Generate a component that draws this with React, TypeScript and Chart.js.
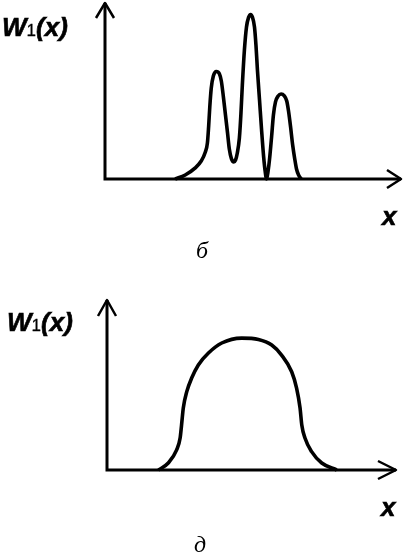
import React, { useEffect, useRef } from "react";
import { Chart, registerables } from "chart.js";

Chart.register(...registerables);

// Panel "б": W1(x) with three peaks (axis units 0..100, arrow tips at 100)
const xB = [23.7, 27.1, 30.5, 32.5, 33.9, 34.6, 35.0, 35.4, 35.9, 36.6, 37.6, 38.6, 39.3, 40.0, 40.7, 41.4, 42.0, 42.7, 43.5, 44.1, 44.7, 45.4, 45.9, 46.4, 47.1, 47.8, 48.5, 49.2, 49.8, 50.5, 51.0, 51.5, 52.2, 52.9, 53.6, 54.1, 54.6, 55.1, 55.6, 56.3, 56.9, 57.6, 58.5, 59.5, 60.5, 61.4, 62.0, 62.7, 63.4, 64.1, 64.7, 65.4, 66.3];
const yB = [0, 2.3, 6.3, 10.2, 15.3, 20.5, 29.5, 40.9, 51.7, 58.5, 61.1, 59.9, 55.7, 46.6, 36.4, 26.1, 17.0, 11.6, 9.7, 10.8, 14.8, 23.3, 36.4, 53.4, 73.3, 86.4, 91.8, 93.5, 92.0, 86.4, 76.1, 61.9, 44.9, 27.8, 12.5, 4.5, 0, 4.5, 11.4, 24.4, 36.4, 43.8, 47.2, 48.3, 47.4, 44.3, 38.6, 29.5, 19.3, 11.4, 5.7, 2.3, 0];

// Panel "д": W1(x) dome
const xD = [17.8, 21.2, 24.1, 25.3, 25.8, 26.4, 27.6, 29.3, 31.6, 35.1, 39.7, 46.6, 52.4, 57.0, 60.4, 63.9, 65.6, 66.8, 67.4, 68.5, 70.8, 74.3, 79.5];
const yD = [0, 4.1, 11.8, 18.8, 26.5, 36.5, 46.1, 54.1, 61.8, 68.8, 74.7, 77.6, 76.8, 73.5, 67.6, 57.8, 48.2, 36.5, 26.5, 18.8, 10.8, 4.1, 0];

const axisMin = 0;
const axisMax = 100;

type PanelProps = {
  xs: number[];
  ys: number[];
  top: number;
  width: number;
  height: number;
  pad: { left: number; right: number; top: number; bottom: number };
  arrowX: { back: number; half: number };
  arrowY: { back: number; half: number };
};

function Panel({ xs, ys, top, width, height, pad, arrowX, arrowY }: PanelProps) {
  const ref = useRef<HTMLCanvasElement | null>(null);
  useEffect(() => {
    if (!ref.current) return;
    const axesArrows = {
      id: "axesArrows",
      afterDatasetsDraw(chart: any) {
        const { ctx } = chart;
        const sx = chart.scales.x;
        const sy = chart.scales.y;
        const x0 = sx.getPixelForValue(axisMin);
        const x1 = sx.getPixelForValue(axisMax);
        const y0 = sy.getPixelForValue(axisMin);
        const y1 = sy.getPixelForValue(axisMax);
        ctx.save();
        ctx.strokeStyle = "#000";
        ctx.lineWidth = 3;
        ctx.lineCap = "butt";
        ctx.beginPath();
        ctx.moveTo(x0 - 1.5, y0);
        ctx.lineTo(x1, y0);
        ctx.moveTo(x0, y0 + 1.5);
        ctx.lineTo(x0, y1);
        ctx.stroke();
        ctx.lineWidth = 2.5;
        ctx.lineJoin = "round";
        ctx.beginPath();
        ctx.moveTo(x1 - arrowX.back, y0 - arrowX.half);
        ctx.lineTo(x1, y0);
        ctx.lineTo(x1 - arrowX.back, y0 + arrowX.half);
        ctx.moveTo(x0 - arrowY.half, y1 + arrowY.back);
        ctx.lineTo(x0, y1);
        ctx.lineTo(x0 + arrowY.half, y1 + arrowY.back);
        ctx.stroke();
        ctx.restore();
      },
    };
    const chart = new Chart(ref.current, {
      type: "line",
      data: {
        datasets: [
          {
            data: xs.map((x, i) => ({ x, y: ys[i] })),
            borderColor: "#000",
            borderWidth: 3.6,
            pointRadius: 0,
            fill: false,
            cubicInterpolationMode: "monotone",
            clip: false as any,
          },
        ],
      },
      options: {
        responsive: false,
        animation: false,
        events: [],
        layout: { padding: pad },
        plugins: { legend: { display: false }, tooltip: { enabled: false }, title: { display: false } },
        scales: {
          x: { type: "linear", min: axisMin, max: axisMax, display: false },
          y: { type: "linear", min: axisMin, max: axisMax, display: false },
        },
      },
      plugins: [axesArrows],
    });
    return () => chart.destroy();
  }, []);
  return (
    <canvas
      ref={ref}
      width={width}
      height={height}
      style={{ position: "absolute", left: 0, top, width, height }}
    />
  );
}

const sans = '"Liberation Sans", Arial, sans-serif';
const serif = '"Liberation Serif", "Times New Roman", serif';

function YLabel({ left, top }: { left: number; top: number }) {
  return (
    <div
      style={{
        position: "absolute",
        left,
        top,
        fontFamily: sans,
        fontSize: 26,
        lineHeight: 1,
        fontWeight: 900,
        fontStyle: "italic",
        whiteSpace: "nowrap",
        color: "#000",
        WebkitTextStroke: "0.6px #000",
      }}
    >
      W<span style={{ fontStyle: "normal", fontWeight: "normal", fontSize: 17, WebkitTextStroke: "0.3px #000" }}>1</span>(x)
    </div>
  );
}

function XLabel({ left, top }: { left: number; top: number }) {
  return (
    <div
      style={{
        position: "absolute",
        left,
        top,
        fontFamily: sans,
        fontSize: 26,
        lineHeight: 1,
        fontWeight: "bold",
        fontStyle: "italic",
        color: "#000",
        WebkitTextStroke: "0.6px #000",
      }}
    >
      x
    </div>
  );
}

function Caption({ left, top, text }: { left: number; top: number; text: string }) {
  return (
    <div
      style={{
        position: "absolute",
        left,
        top,
        fontFamily: serif,
        fontSize: 24,
        lineHeight: 1,
        fontStyle: "italic",
        color: "#000",
      }}
    >
      {text}
    </div>
  );
}

export default function App() {
  return (
    <div style={{ position: "absolute", left: 0, top: 0, width: 405, height: 553, background: "#fff", overflow: "hidden" }}>
      <Panel
        xs={xB}
        ys={yB}
        top={0}
        width={405}
        height={280}
        pad={{ left: 105, right: 4, top: 3, bottom: 101 }}
        arrowX={{ back: 14, half: 9 }}
        arrowY={{ back: 15, half: 9 }}
      />
      <Panel
        xs={xD}
        ys={yD}
        top={280}
        width={405}
        height={273}
        pad={{ left: 107, right: 9, top: 20, bottom: 83 }}
        arrowX={{ back: 18, half: 9 }}
        arrowY={{ back: 16, half: 9 }}
      />
      <YLabel left={2} top={14} />
      <XLabel left={382} top={203} />
      <Caption left={196} top={238} text="б" />
      <YLabel left={7} top={309} />
      <XLabel left={381} top={494} />
      <Caption left={194} top={532} text="д" />
    </div>
  );
}
